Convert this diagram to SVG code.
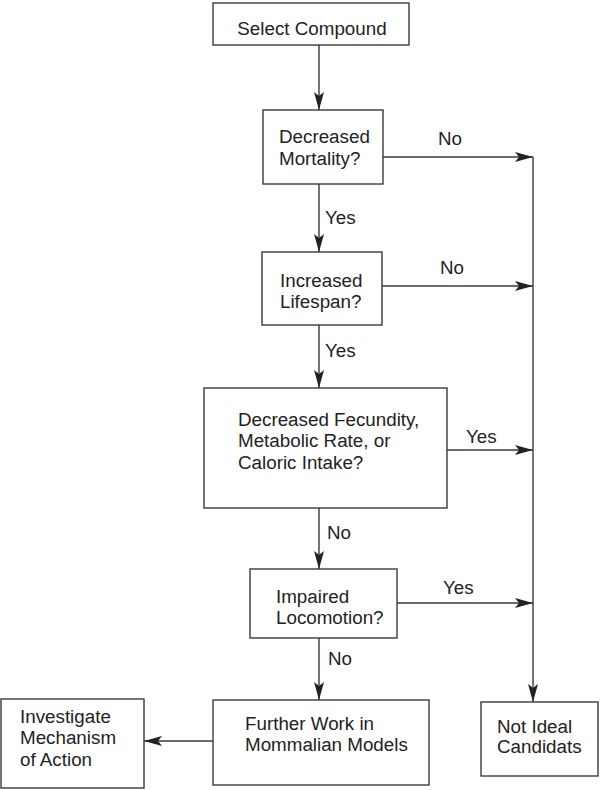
<svg xmlns="http://www.w3.org/2000/svg" width="606" height="790" viewBox="0 0 606 790">
<style>
.box{fill:#fff;stroke:#3a3a3a;stroke-width:1.4}
.t{font-family:"Liberation Sans",Arial,sans-serif;font-size:18.8px;fill:#222}
.ln{fill:none;stroke:#3a3a3a;stroke-width:1.4}
.lbl{font-family:"Liberation Sans",Arial,sans-serif;font-size:18.8px;fill:#222}
</style>
<defs>
<marker id="ah" markerUnits="userSpaceOnUse" markerWidth="20" markerHeight="12" refX="18" refY="5" orient="auto">
<path d="M0,0 L18,5 L0,10 L4,5 z" fill="#222"/>
</marker>
</defs>
<rect width="606" height="790" fill="#fff"/>
<g id="n-select"><rect class="box" x="213" y="3" width="196" height="42"/><text class="t" x="312" y="35" text-anchor="middle">Select Compound</text></g>
<g id="n-mortality"><rect class="box" x="263" y="110" width="120" height="74"/><text class="t" x="279" y="143">Decreased</text><text class="t" x="279" y="165">Mortality?</text></g>
<g id="n-lifespan"><rect class="box" x="262" y="252" width="120" height="73"/><text class="t" x="280" y="287">Increased</text><text class="t" x="280" y="308">Lifespan?</text></g>
<g id="n-fecundity"><rect class="box" x="204" y="388" width="243" height="120"/><text class="t" x="238" y="426">Decreased Fecundity,</text><text class="t" x="238" y="447">Metabolic Rate, or</text><text class="t" x="238" y="469">Caloric Intake?</text></g>
<g id="n-locomotion"><rect class="box" x="250" y="569" width="147" height="69"/><text class="t" x="276" y="603">Impaired</text><text class="t" x="276" y="624">Locomotion?</text></g>
<g id="n-further"><rect class="box" x="213" y="700" width="216" height="85"/><text class="t" x="245" y="730">Further Work in</text><text class="t" x="245" y="751">Mommalian Models</text></g>
<g id="n-investigate"><rect class="box" x="1" y="699" width="143" height="89"/><text class="t" x="20" y="723">Investigate</text><text class="t" x="20" y="744">Mechanism</text><text class="t" x="20" y="766">of Action</text></g>
<g id="n-notideal"><rect class="box" x="481" y="702" width="117" height="74"/><text class="t" x="497" y="733">Not Ideal</text><text class="t" x="497" y="753">Candidats</text></g>
<g id="connectors">
<line class="ln" x1="319" y1="45" x2="319" y2="110" marker-end="url(#ah)"/>
<line class="ln" x1="319" y1="184" x2="319" y2="252" marker-end="url(#ah)"/>
<line class="ln" x1="319" y1="325" x2="319" y2="388" marker-end="url(#ah)"/>
<line class="ln" x1="319" y1="508" x2="319" y2="569" marker-end="url(#ah)"/>
<line class="ln" x1="319" y1="638" x2="319" y2="700" marker-end="url(#ah)"/>
<line class="ln" x1="213" y1="741" x2="144" y2="741" marker-end="url(#ah)"/>
<line class="ln" x1="383" y1="157" x2="533" y2="157" marker-end="url(#ah)"/>
<line class="ln" x1="533" y1="157" x2="533" y2="702" marker-end="url(#ah)"/>
<line class="ln" x1="382" y1="286" x2="533" y2="286" marker-end="url(#ah)"/>
<line class="ln" x1="447" y1="450" x2="533" y2="450" marker-end="url(#ah)"/>
<line class="ln" x1="397" y1="603" x2="533" y2="603" marker-end="url(#ah)"/>
<text class="lbl" x="438" y="145">No</text>
<text class="lbl" x="325" y="224">Yes</text>
<text class="lbl" x="440" y="274">No</text>
<text class="lbl" x="325" y="357">Yes</text>
<text class="lbl" x="466" y="443">Yes</text>
<text class="lbl" x="327" y="539">No</text>
<text class="lbl" x="443" y="594">Yes</text>
<text class="lbl" x="328" y="665">No</text>
</g>
</svg>
